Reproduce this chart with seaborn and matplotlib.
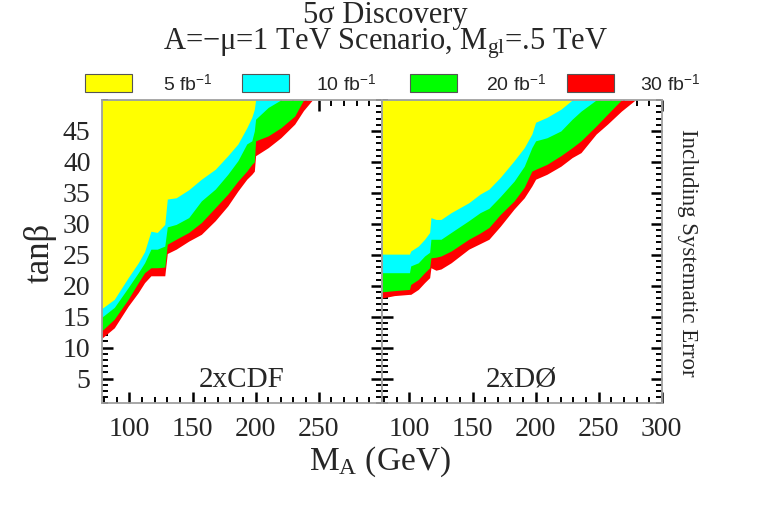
import numpy as np
import pandas as pd
import seaborn as sns
import matplotlib.pyplot as plt
from matplotlib.patches import Rectangle
from matplotlib.ticker import MultipleLocator

# luminosities and their colours
lumi_labels = ["5 fb$^{\\mathsf{-1}}$", "10 fb$^{\\mathsf{-1}}$",
               "20 fb$^{\\mathsf{-1}}$", "30 fb$^{\\mathsf{-1}}$"]
lumi_colors = ["#ffff00", "#00ffff", "#00ff00", "#ff0000"]

# 2xCDF: lower edge of the 5 sigma region (tan beta) vs M_A
cdf_ma = [78, 88, 99, 107, 112, 117, 122, 128, 130, 137, 147, 157, 168,
          178, 186, 193, 197, 199, 200, 210, 220, 231, 238, 245]
cdf_5 = [16.3, 17.8, 21.3, 23.7, 25.5, 28.8, 28.6, 29.9, 34.0, 34.2, 35.5,
         37.2, 38.8, 41.0, 42.9, 45.5, 47.2, 48.5, 50, 50, 50, 50, 50, 50]
cdf_10 = [14.9, 16.5, 19.7, 22.1, 23.7, 25.9, 25.9, 26.4, 29.5, 29.9, 31.0,
          33.7, 35.6, 38.0, 40.2, 42.9, 43.4, 45.0, 46.9, 48.8, 50, 50, 50, 50]
cdf_20 = [12.7, 14.6, 17.8, 20.5, 22.1, 22.9, 22.9, 23.0, 26.7, 27.5, 28.6,
          30.2, 32.6, 34.8, 36.9, 38.5, 39.6, 40.0, 43.4, 44.2, 45.5, 47.4, 50, 50]
cdf_30 = [11.5, 13.2, 16.7, 18.9, 20.5, 21.6, 21.6, 21.6, 25.2, 25.9, 27.2,
          28.3, 30.5, 32.9, 35.3, 37.2, 38.0, 38.5, 41.0, 42.3, 43.9, 46.1, 48.3, 50]

# 2xDO
d0_ma = [78, 88, 100, 101, 107, 112, 116, 117, 121, 125, 133, 147, 156, 163,
         172, 183, 191, 197, 200, 209, 220, 229, 236, 248, 257, 268, 279]
d0_5 = [25.1, 25.1, 25.1, 25.6, 26.4, 27.5, 28.6, 31.0, 30.7, 30.7, 31.8,
        33.4, 34.8, 35.6, 37.5, 40.2, 42.3, 44.5, 46.4, 47.2, 48.5, 50, 50,
        50, 50, 50, 50]
d0_10 = [22.1, 22.1, 22.1, 23.2, 23.7, 24.8, 25.4, 27.5, 27.5, 27.5, 28.6,
         30.5, 31.8, 32.5, 34.4, 36.9, 39.3, 42.3, 43.4, 43.9, 45.0, 46.9,
         48.2, 50, 50, 50, 50]
d0_20 = [19.0, 19.2, 19.4, 20.2, 21.0, 22.1, 22.9, 24.5, 24.6, 24.8, 25.6,
         27.5, 28.5, 29.4, 31.5, 33.7, 35.9, 38.5, 38.8, 39.6, 41.0, 42.3,
         43.4, 45.8, 47.7, 50, 50]
d0_30 = [18.0, 18.4, 18.6, 18.6, 19.4, 20.5, 21.3, 22.9, 22.5, 22.7, 23.7,
         25.9, 26.8, 27.5, 29.6, 32.4, 34.2, 36.1, 37.2, 38.0, 39.3, 40.7,
         41.5, 44.5, 46.1, 48.2, 50]

cdf = pd.DataFrame({"ma": cdf_ma, "5": cdf_5, "10": cdf_10, "20": cdf_20, "30": cdf_30})
d0 = pd.DataFrame({"ma": d0_ma, "5": d0_5, "10": d0_10, "20": d0_20, "30": d0_30})

sns.set_theme(style="ticks")
plt.rcParams["font.family"] = ["Liberation Serif", "DejaVu Serif"]
plt.rcParams["mathtext.fontset"] = "custom"
plt.rcParams["mathtext.rm"] = "Liberation Serif"
plt.rcParams["mathtext.it"] = "Liberation Serif"
plt.rcParams["mathtext.sf"] = "Liberation Sans"

fig = plt.figure(figsize=(7.63, 5.07), dpi=100)
ax1 = fig.add_axes([0.1333, 0.2045, 0.367, 0.5983])
ax2 = fig.add_axes([0.5003, 0.2045, 0.367, 0.5983])

for ax, df, name in [(ax1, cdf, "2xCDF"), (ax2, d0, "2xDØ")]:
    # biggest luminosity first, smaller ones painted on top
    for col, c in zip(["30", "20", "10", "5"], lumi_colors[::-1]):
        ax.fill_between(df["ma"], df[col], 50, color=c, lw=0)
    ax.set_xlim(78, 300)
    ax.set_ylim(1, 50)
    ax.yaxis.set_major_locator(MultipleLocator(5))
    ax.yaxis.set_minor_locator(MultipleLocator(1))
    ax.tick_params(which="both", direction="in", top=True, right=True,
                   color="black", labelsize=20)
    ax.tick_params(axis="x", pad=10)
    ax.tick_params(axis="y", pad=8)
    ax.tick_params(which="major", length=8, width=1.8)
    ax.tick_params(which="minor", length=4, width=1.4)
    for s in ax.spines.values():
        s.set_color("#a0a0a0")
        s.set_linewidth(1.3)
    ax.text(0.5, 0.054, name, transform=ax.transAxes, ha="center",
            va="baseline", fontsize=21)

ax1.set_xticks([100, 150, 200, 250])
ax1.set_yticks([5, 10, 15, 20, 25, 30, 35, 40, 45])
ax2.set_xticks([100, 150, 200, 250, 300])
ax2.set_yticks([5, 10, 15, 20, 25, 30, 35, 40, 45])
ax2.set_yticklabels([])
ax1.xaxis.set_minor_locator(MultipleLocator(10))
ax2.xaxis.set_minor_locator(MultipleLocator(10))

# titles and axis labels
fig.text(0.505, 0.9014,
         "5σ Discovery\nA=−μ=1 TeV Scenario, M$_{\\mathrm{gl}}$=.5 TeV",
         ha="center", va="baseline", fontsize=22, linespacing=0.85,
         multialignment="center")
fig.text(0.052, 0.501, "tanβ", rotation=90, ha="center", va="center", fontsize=25)
fig.text(0.498, 0.089, "M$_{\\mathrm{A}}$ (GeV)", ha="center", va="center", fontsize=24)
fig.text(0.9004, 0.501, "Including Systematic Error", rotation=270,
         ha="center", va="center", fontsize=16.5)

# legend row
box_x = [85, 242, 410, 567]
text_x = [163, 316, 486, 640]
for bx, tx, lab, c in zip(box_x, text_x, lumi_labels, lumi_colors):
    fig.patches.append(Rectangle((bx / 763, 1 - 92 / 507), 47 / 763, 18 / 507,
                                 transform=fig.transFigure, facecolor=c,
                                 edgecolor="#555555", lw=0.8))
    fig.text(tx / 763, 1 - 84 / 507, lab, ha="left", va="center", fontsize=14,
             family="Liberation Sans")

fig.savefig("out.png", dpi=100)
